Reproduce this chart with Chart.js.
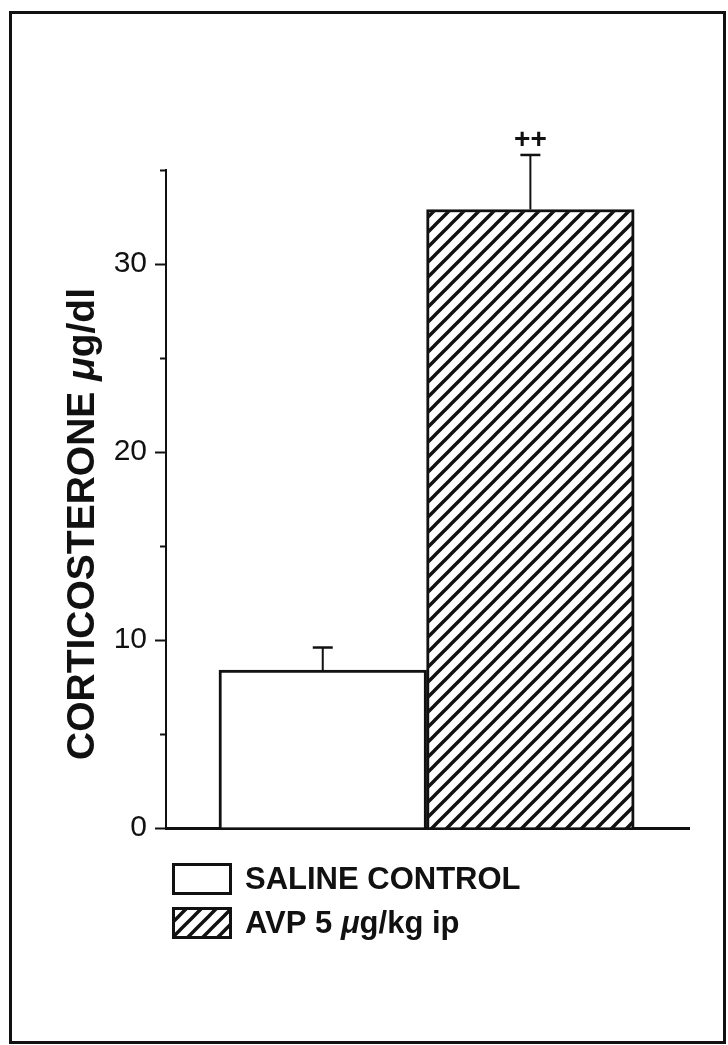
<!DOCTYPE html>
<html>
<head>
<meta charset="utf-8">
<script src="https://cdn.jsdelivr.net/npm/chart.js@4.4.0/dist/chart.umd.min.js"></script>
<style>
  html, body { margin: 0; padding: 0; background: #fff; }
  #wrap { position: relative; width: 728px; height: 1045px; }
  #frame { position: absolute; left: 9px; top: 11px; width: 711px; height: 1027px; border: 3px solid #111; }
  canvas { position: absolute; left: 0; top: 0; }
</style>
</head>
<body>
<div id="wrap">
  <div id="frame"></div>
  <canvas id="myChart" width="728" height="1045"></canvas>
</div>
<script>
const groups = ['SALINE CONTROL', 'AVP 5 μg/kg ip'];
const xPos = [0, 1];
const means = [8.4, 32.9];
const sems = [1.2, 2.9];
const marks = ['', '++'];
const yTicks = [0, 10, 20, 30];
const yTitle = 'CORTICOSTERONE μg/dl';

const FONT = '"Liberation Sans", Arial, Helvetica, sans-serif';
const ctx = document.getElementById('myChart').getContext('2d');

// diagonal hatch for the AVP bar
function makeHatch() {
  const c = document.createElement('canvas');
  c.width = 15; c.height = 15;
  const g = c.getContext('2d');
  g.fillStyle = '#fff';
  g.fillRect(0, 0, 15, 15);
  g.strokeStyle = '#111';
  g.lineWidth = 3.4;
  g.beginPath();
  g.moveTo(-3, 18); g.lineTo(18, -3);
  g.moveTo(-3, 3); g.lineTo(3, -3);
  g.moveTo(12, 18); g.lineTo(18, 12);
  g.stroke();
  return ctx.createPattern(c, 'repeat');
}
const hatch = makeHatch();
const fills = ['#fff', hatch];

// bold text, with the mu in italic
function drawMixed(c, text, x, y, size, draw) {
  let cx = x;
  text.split(/(μ)/).forEach(p => {
    if (!p) return;
    c.font = (p === 'μ' ? 'italic bold ' : 'bold ') + size + 'px ' + FONT;
    if (draw) c.fillText(p, cx, y);
    cx += c.measureText(p).width;
  });
  return cx - x;
}

const extras = {
  id: 'extras',
  afterDraw(chart) {
    const c = chart.ctx;
    const xs = chart.scales.x, ys = chart.scales.y;
    const area = chart.chartArea;
    c.save();
    c.fillStyle = '#111';
    c.strokeStyle = '#111';

    // minor ticks
    c.lineWidth = 2;
    ys.ticks.forEach(t => {
      if (yTicks.includes(t.value)) return;
      const py = Math.round(ys.getPixelForValue(t.value)) + 0.5;
      c.beginPath(); c.moveTo(ys.right - 6, py); c.lineTo(ys.right, py); c.stroke();
    });

    // error bars + marks
    means.forEach((m, i) => {
      const px = xs.getPixelForValue(xPos[i]);
      const yb = ys.getPixelForValue(m);
      const yt = ys.getPixelForValue(m + sems[i]);
      c.lineWidth = 2;
      c.beginPath(); c.moveTo(px, yb); c.lineTo(px, yt); c.stroke();
      c.lineWidth = 2.5;
      c.beginPath(); c.moveTo(px - 10, yt); c.lineTo(px + 10, yt); c.stroke();
      if (marks[i]) {
        c.font = 'bold 28px ' + FONT;
        c.textAlign = 'center';
        c.textBaseline = 'middle';
        c.fillText(marks[i], px, yt - 15);
      }
    });

    // y title
    c.textAlign = 'left';
    c.textBaseline = 'alphabetic';
    const w = drawMixed(c, yTitle, 0, 0, 39, false);
    c.save();
    c.translate(94, 524 + w / 2);
    c.rotate(-Math.PI / 2);
    drawMixed(c, yTitle, 0, 0, 39, true);
    c.restore();

    // legend
    const lx = area.left + 6;
    groups.forEach((g, i) => {
      const top = area.bottom + 35 + i * 44;
      c.fillStyle = fills[i];
      c.fillRect(lx, top, 60, 32);
      c.lineWidth = 3;
      c.strokeRect(lx + 1.5, top + 1.5, 57, 29);
      c.fillStyle = '#111';
      c.textBaseline = 'middle';
      drawMixed(c, g, lx + 73, top + 17, 31, true);
    });
    c.restore();
  }
};

new Chart(ctx, {
  type: 'bar',
  data: {
    datasets: [{
      label: 'Corticosterone',
      data: xPos.map((x, i) => ({ x: x, y: means[i] })),
      backgroundColor: fills,
      borderColor: '#111',
      borderWidth: 3,
      borderSkipped: 'start',
      barPercentage: 1,
      categoryPercentage: 1
    }]
  },
  options: {
    responsive: false,
    animation: false,
    devicePixelRatio: 1,
    layout: { padding: { top: 170, right: 39, bottom: 217, left: 0 } },
    plugins: {
      legend: { display: false },
      tooltip: { enabled: false }
    },
    scales: {
      x: {
        type: 'linear',
        offset: false,
        min: -0.755,
        max: 1.764,
        ticks: { display: false },
        grid: { display: true, offset: false, drawOnChartArea: false, drawTicks: false },
        border: { color: '#111', width: 3 },
        afterBuildTicks: s => { s.ticks = xPos.map(v => ({ value: v })); },
        afterFit: s => { s.height = 0; }
      },
      y: {
        min: 0,
        max: 35,
        ticks: {
          stepSize: 5,
          color: '#111',
          padding: 8,
          font: { family: FONT, size: 30 },
          callback: v => yTicks.includes(v) ? v : ''
        },
        grid: {
          display: true,
          drawOnChartArea: false,
          tickLength: 11,
          tickWidth: 2,
          tickColor: c => yTicks.includes(c.tick.value) ? '#111' : 'rgba(0,0,0,0)'
        },
        border: { color: '#111', width: 2 },
        afterFit: s => { s.width = 166; }
      }
    }
  },
  plugins: [extras]
});
</script>
</body>
</html>
